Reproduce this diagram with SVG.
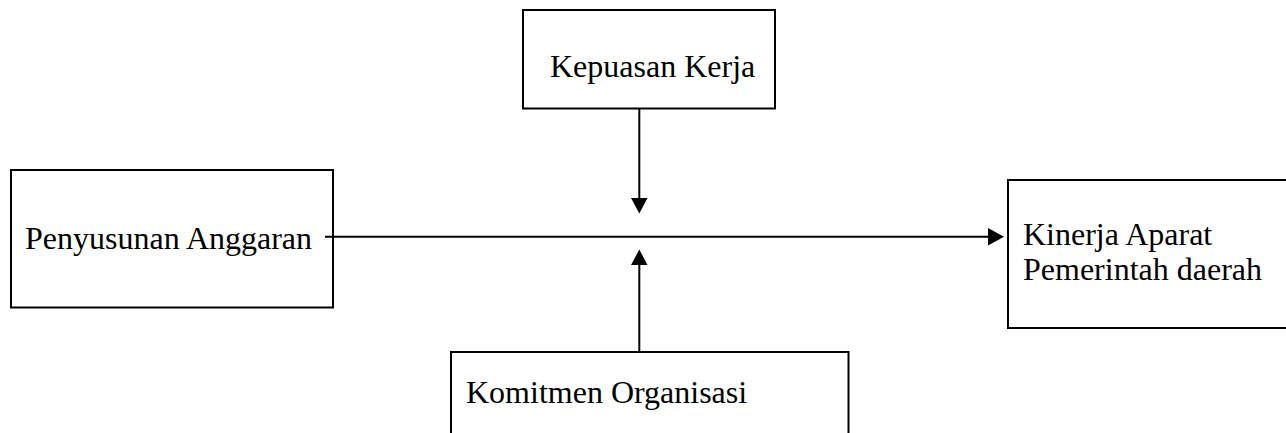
<svg xmlns="http://www.w3.org/2000/svg" width="1286" height="433" viewBox="0 0 1286 433">
  <style>
    .box { fill: #ffffff; stroke: #000000; stroke-width: 2; }
    .lbl { font-family: "Liberation Serif", "Times New Roman", serif; font-size: 32px; fill: #000000; }
    .con { stroke: #000000; stroke-width: 2; fill: none; }
    .head { fill: #000000; stroke: none; }
  </style>
  <rect x="0" y="0" width="1286" height="433" fill="#ffffff"/>
  <g id="node-penyusunan">
    <rect class="box" x="11" y="170" width="322" height="137.5"/>
    <text class="lbl" x="25" y="249">Penyusunan Anggaran</text>
  </g>
  <g id="node-kepuasan">
    <rect class="box" x="523" y="10" width="252" height="98.5"/>
    <text class="lbl" x="550" y="77">Kepuasan Kerja</text>
  </g>
  <g id="node-komitmen">
    <rect class="box" x="451" y="352" width="397.5" height="100"/>
    <text class="lbl" x="466" y="403">Komitmen Organisasi</text>
  </g>
  <g id="node-kinerja">
    <rect class="box" x="1008" y="180" width="300" height="148"/>
    <text class="lbl" x="1023" y="245">Kinerja Aparat</text>
    <text class="lbl" x="1023" y="280">Pemerintah daerah</text>
  </g>
  <g id="connectors">
    <line class="con" x1="325" y1="236.7" x2="990" y2="236.7"/>
    <polygon class="head" points="988,228 1004,236.7 988,245.4"/>
    <line class="con" x1="639.3" y1="108" x2="639.3" y2="200"/>
    <polygon class="head" points="631,198 647.5,198 639.3,213.5"/>
    <line class="con" x1="639.3" y1="352" x2="639.3" y2="263"/>
    <polygon class="head" points="631,265 647.5,265 639.3,249.5"/>
  </g>
</svg>
